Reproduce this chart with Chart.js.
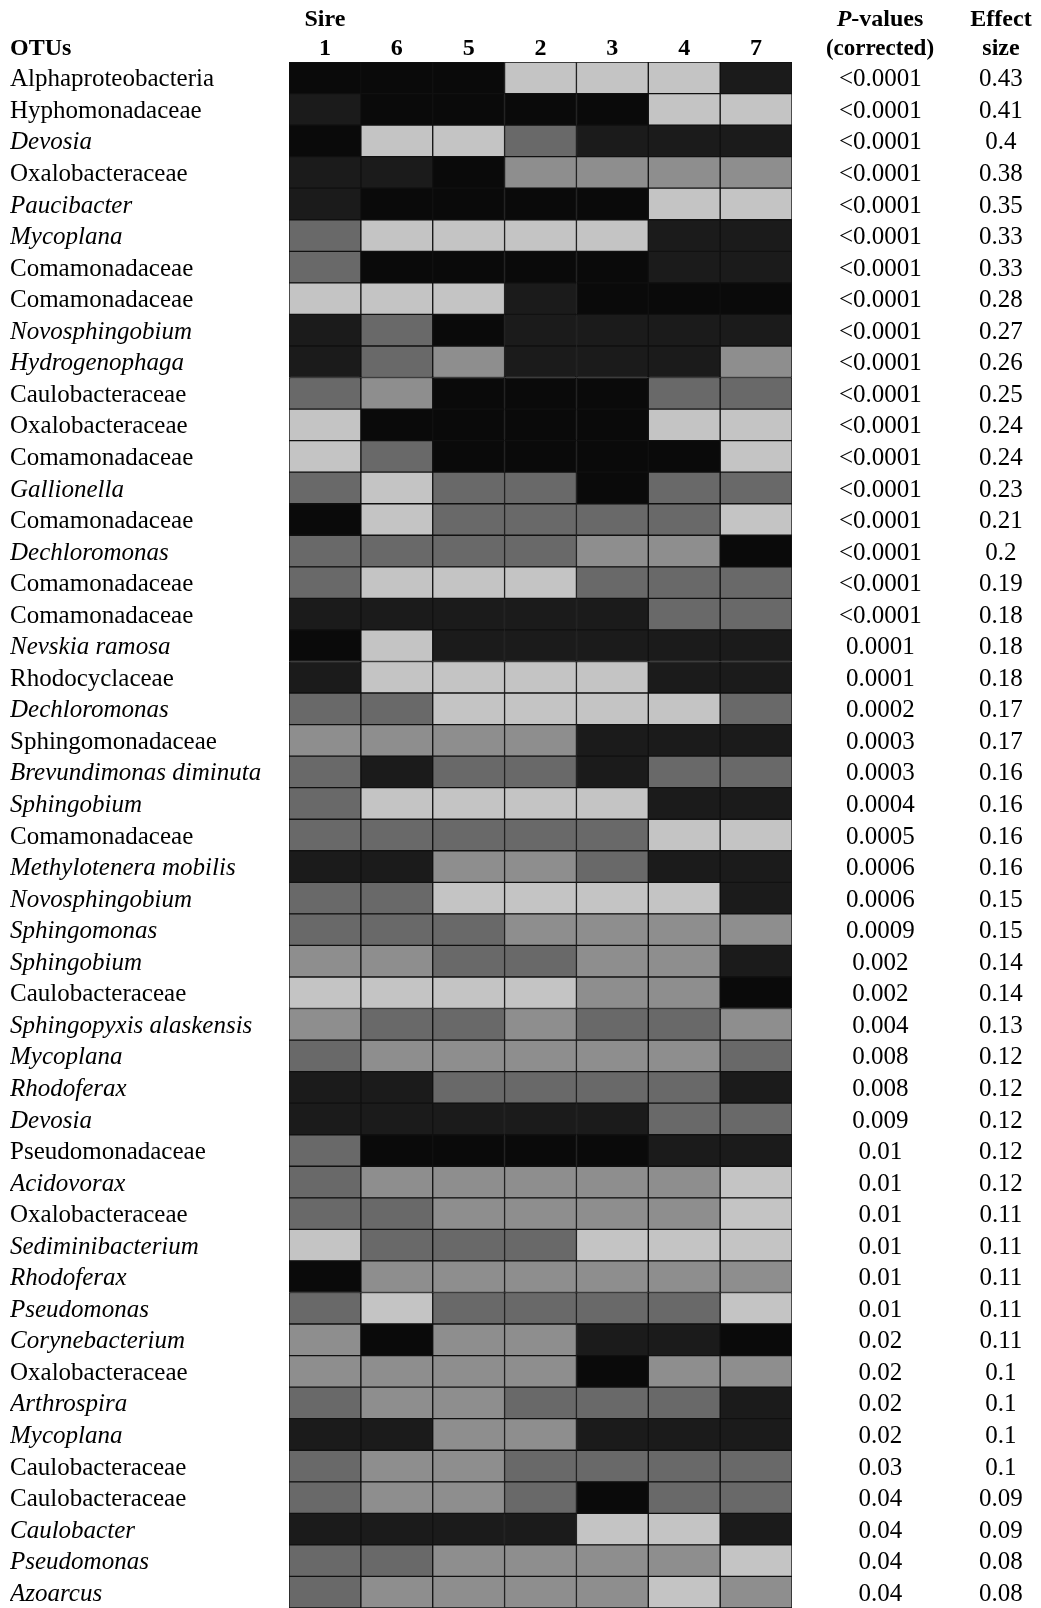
<!DOCTYPE html>
<html>
<head>
<meta charset="utf-8">
<script src="https://cdn.jsdelivr.net/npm/chart.js@4.4.1/dist/chart.umd.min.js"></script>
<style>
  html, body { margin: 0; padding: 0; background: #fff; overflow: hidden; }
</style>
</head>
<body>
<canvas id="heat" width="1041" height="1608"></canvas>
<script>
const sires = ['1', '6', '5', '2', '3', '4', '7'];

const otus = [
  'Alphaproteobacteria', 'Hyphomonadaceae', 'Devosia', 'Oxalobacteraceae', 'Paucibacter',
  'Mycoplana', 'Comamonadaceae', 'Comamonadaceae', 'Novosphingobium', 'Hydrogenophaga',
  'Caulobacteraceae', 'Oxalobacteraceae', 'Comamonadaceae', 'Gallionella', 'Comamonadaceae',
  'Dechloromonas', 'Comamonadaceae', 'Comamonadaceae', 'Nevskia ramosa', 'Rhodocyclaceae',
  'Dechloromonas', 'Sphingomonadaceae', 'Brevundimonas diminuta', 'Sphingobium', 'Comamonadaceae',
  'Methylotenera mobilis', 'Novosphingobium', 'Sphingomonas', 'Sphingobium', 'Caulobacteraceae',
  'Sphingopyxis alaskensis', 'Mycoplana', 'Rhodoferax', 'Devosia', 'Pseudomonadaceae',
  'Acidovorax', 'Oxalobacteraceae', 'Sediminibacterium', 'Rhodoferax', 'Pseudomonas',
  'Corynebacterium', 'Oxalobacteraceae', 'Arthrospira', 'Mycoplana', 'Caulobacteraceae',
  'Caulobacteraceae', 'Caulobacter', 'Pseudomonas', 'Azoarcus'
];

const pValues = [
  '<0.0001', '<0.0001', '<0.0001', '<0.0001', '<0.0001', '<0.0001', '<0.0001', '<0.0001', '<0.0001', '<0.0001',
  '<0.0001', '<0.0001', '<0.0001', '<0.0001', '<0.0001', '<0.0001', '<0.0001', '<0.0001', '0.0001', '0.0001',
  '0.0002', '0.0003', '0.0003', '0.0004', '0.0005', '0.0006', '0.0006', '0.0009', '0.002', '0.002',
  '0.004', '0.008', '0.008', '0.009', '0.01', '0.01', '0.01', '0.01', '0.01', '0.01',
  '0.02', '0.02', '0.02', '0.02', '0.03', '0.04', '0.04', '0.04', '0.04'
];

const effectSizes = [
  '0.43', '0.41', '0.4', '0.38', '0.35', '0.33', '0.33', '0.28', '0.27', '0.26',
  '0.25', '0.24', '0.24', '0.23', '0.21', '0.2', '0.19', '0.18', '0.18', '0.18',
  '0.17', '0.17', '0.16', '0.16', '0.16', '0.16', '0.15', '0.15', '0.14', '0.14',
  '0.13', '0.12', '0.12', '0.12', '0.12', '0.12', '0.11', '0.11', '0.11', '0.11',
  '0.11', '0.1', '0.1', '0.1', '0.1', '0.09', '0.09', '0.08', '0.08'
];

// shade per cell, one row per OTU, columns in sire order; 0 = darkest, 4 = lightest
const shadeLevels = [
  [0, 0, 0, 4, 4, 4, 1],
  [1, 0, 0, 0, 0, 4, 4],
  [0, 4, 4, 2, 1, 1, 1],
  [1, 1, 0, 3, 3, 3, 3],
  [1, 0, 0, 0, 0, 4, 4],
  [2, 4, 4, 4, 4, 1, 1],
  [2, 0, 0, 0, 0, 1, 1],
  [4, 4, 4, 1, 0, 0, 0],
  [1, 2, 0, 1, 1, 1, 1],
  [1, 2, 3, 1, 1, 1, 3],
  [2, 3, 0, 0, 0, 2, 2],
  [4, 0, 0, 0, 0, 4, 4],
  [4, 2, 0, 0, 0, 0, 4],
  [2, 4, 2, 2, 0, 2, 2],
  [0, 4, 2, 2, 2, 2, 4],
  [2, 2, 2, 2, 3, 3, 0],
  [2, 4, 4, 4, 2, 2, 2],
  [1, 1, 1, 1, 1, 2, 2],
  [0, 4, 1, 1, 1, 1, 1],
  [1, 4, 4, 4, 4, 1, 1],
  [2, 2, 4, 4, 4, 4, 2],
  [3, 3, 3, 3, 1, 1, 1],
  [2, 1, 2, 2, 1, 2, 2],
  [2, 4, 4, 4, 4, 1, 1],
  [2, 2, 2, 2, 2, 4, 4],
  [1, 1, 3, 3, 2, 1, 1],
  [2, 2, 4, 4, 4, 4, 1],
  [2, 2, 2, 3, 3, 3, 3],
  [3, 3, 2, 2, 3, 3, 1],
  [4, 4, 4, 4, 3, 3, 0],
  [3, 2, 2, 3, 2, 2, 3],
  [2, 3, 3, 3, 3, 3, 2],
  [1, 1, 2, 2, 2, 2, 1],
  [1, 1, 1, 1, 1, 2, 2],
  [2, 0, 0, 0, 0, 1, 1],
  [2, 3, 3, 3, 3, 3, 4],
  [2, 2, 3, 3, 3, 3, 4],
  [4, 2, 2, 2, 4, 4, 4],
  [0, 3, 3, 3, 3, 3, 3],
  [2, 4, 2, 2, 2, 2, 4],
  [3, 0, 3, 3, 1, 1, 0],
  [3, 3, 3, 3, 0, 3, 3],
  [2, 3, 3, 2, 2, 2, 1],
  [1, 1, 3, 3, 1, 1, 1],
  [2, 3, 3, 2, 2, 2, 2],
  [2, 3, 3, 2, 0, 2, 2],
  [1, 1, 1, 1, 4, 4, 1],
  [2, 2, 3, 3, 3, 3, 4],
  [2, 3, 3, 3, 3, 4, 3]
];

const shades = ['#0a0a0a', '#1b1b1b', '#696969', '#8e8e8e', '#c4c4c4'];

const FONT = '"Liberation Serif", "Times New Roman", serif';

// family / higher ranks in roman, genera and species in italics
const isItalic = name => !/(aceae|bacteria)$/.test(name);

const datasets = sires.map((s, c) => ({
  label: 'Sire ' + s,
  data: otus.map(() => 1),
  backgroundColor: shadeLevels.map(row => shades[row[c]]),
  borderColor: '#111',
  borderWidth: 1,
  borderSkipped: false,
  barPercentage: 1,
  categoryPercentage: 1
}));

// vertical axes would otherwise reserve half a label (+ padding) above and below
function noVerticalPadding(scale) {
  scale.paddingTop = 0;
  scale.paddingBottom = 0;
}

const headerPlugin = {
  id: 'headers',
  afterDraw(chart) {
    const ctx = chart.ctx;
    const pv = chart.scales.pv;
    const ef = chart.scales.ef;
    const line2 = 48.6, line1 = 19.8;
    ctx.save();
    ctx.fillStyle = '#000';
    ctx.textBaseline = 'middle';
    ctx.font = 'bold 24px ' + FONT;
    ctx.textAlign = 'left';
    ctx.fillText('OTUs', 10, line2);

    // "P-values" with italic P
    const pvX = pv.left + 88;
    ctx.font = 'italic bold 24px ' + FONT;
    const wP = ctx.measureText('P').width;
    ctx.font = 'bold 24px ' + FONT;
    const wRest = ctx.measureText('-values').width;
    const x0 = pvX - (wP + wRest) / 2;
    ctx.font = 'italic bold 24px ' + FONT;
    ctx.fillText('P', x0, line1);
    ctx.font = 'bold 24px ' + FONT;
    ctx.fillText('-values', x0 + wP, line1);
    ctx.textAlign = 'center';
    ctx.font = 'bold 23px ' + FONT;
    ctx.fillText('(corrected)', pvX, line2);

    const efX = ef.left + 35;
    ctx.font = 'bold 24px ' + FONT;
    ctx.fillText('Effect', efX, line1);
    ctx.fillText('size', efX, line2);
    ctx.restore();
  }
};

new Chart(document.getElementById('heat'), {
  type: 'bar',
  data: { labels: otus, datasets: datasets },
  options: {
    indexAxis: 'y',
    responsive: false,
    animation: false,
    layout: { padding: { left: 10, right: 0, top: 0, bottom: 0 } },
    plugins: { legend: { display: false }, tooltip: { enabled: false } },
    scales: {
      x: { type: 'linear', stacked: true, min: 0, max: 7, display: false },
      xt: {
        type: 'category',
        axis: 'x',
        position: 'top',
        labels: sires.map((s, i) => (i === 0 ? ['Sire', s] : ['', s])),
        offset: true,
        grid: { display: false, drawTicks: false },
        border: { display: false },
        ticks: { color: '#000', padding: -1, font: { family: FONT, size: 24, weight: 'bold', lineHeight: 1.2 } },
        afterFit(scale) { scale.height = 62; }
      },
      y: {
        type: 'category',
        stacked: true,
        grid: { display: false, drawTicks: false },
        border: { display: false },
        ticks: {
          color: '#000',
          autoSkip: false,
          crossAlign: 'far',
          labelOffset: 2,
          font: ctx => ({ family: FONT, size: 25, style: isItalic(otus[ctx.index]) ? 'italic' : 'normal' })
        },
        afterFit(scale) { scale.width = 279; noVerticalPadding(scale); }
      },
      pv: {
        type: 'category',
        axis: 'y',
        position: 'right',
        labels: pValues,
        offset: true,
        grid: { display: false, drawTicks: false },
        border: { display: false },
        ticks: { color: '#000', autoSkip: false, crossAlign: 'center', padding: 47, labelOffset: 2, font: { family: FONT, size: 25 } },
        afterFit(scale) { scale.width = 174; noVerticalPadding(scale); }
      },
      ef: {
        type: 'category',
        axis: 'y',
        position: 'right',
        labels: effectSizes,
        offset: true,
        grid: { display: false, drawTicks: false },
        border: { display: false },
        ticks: { color: '#000', autoSkip: false, crossAlign: 'center', padding: 13, labelOffset: 2, font: { family: FONT, size: 25 } },
        afterFit(scale) { scale.width = 75; noVerticalPadding(scale); }
      }
    }
  },
  plugins: [headerPlugin]
});
</script>
</body>
</html>
